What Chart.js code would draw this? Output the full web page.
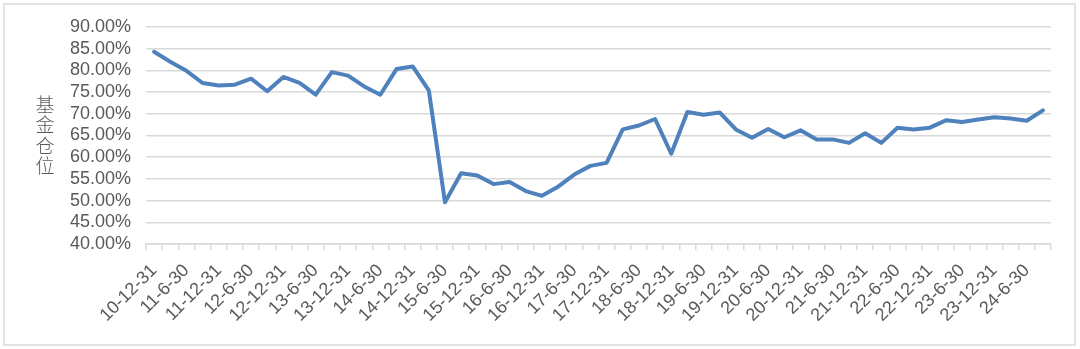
<!doctype html>
<html lang="zh">
<head>
  <meta charset="utf-8">
  <title>基金仓位</title>
  <script src="https://cdn.jsdelivr.net/npm/chart.js@4.4.0/dist/chart.umd.min.js"></script>
  <style>
    body { margin: 0; background: #fff; }
    #frame { position: absolute; left: 3px; top: 3px; width: 1069px; height: 339px; border: 2px solid #e3e3e3; }
    #chart { position: absolute; left: 0; top: 0; }
  </style>
</head>
<body>
  <div id="frame"></div>
  <canvas id="chart" width="1080" height="349"></canvas>

  <script>
    // quarterly report dates, every other one is labelled
    var quarters = ['10-12-31', '11-3-31', '11-6-30', '11-9-30', '11-12-31', '12-3-31', '12-6-30', '12-9-30',
      '12-12-31', '13-3-31', '13-6-30', '13-9-30', '13-12-31', '14-3-31', '14-6-30', '14-9-30',
      '14-12-31', '15-3-31', '15-6-30', '15-9-30', '15-12-31', '16-3-31', '16-6-30', '16-9-30',
      '16-12-31', '17-3-31', '17-6-30', '17-9-30', '17-12-31', '18-3-31', '18-6-30', '18-9-30',
      '18-12-31', '19-3-31', '19-6-30', '19-9-30', '19-12-31', '20-3-31', '20-6-30', '20-9-30',
      '20-12-31', '21-3-31', '21-6-30', '21-9-30', '21-12-31', '22-3-31', '22-6-30', '22-9-30',
      '22-12-31', '23-3-31', '23-6-30', '23-9-30', '23-12-31', '24-3-31', '24-6-30', '24-9-30'];

    // fund position, %
    var position = [84.3, 82.0, 79.9, 77.1, 76.5, 76.7, 78.1, 75.2, 78.5, 77.1,
      74.4, 79.6, 78.8, 76.3, 74.4, 80.3, 80.9, 75.4, 49.6, 56.3,
      55.8, 53.8, 54.3, 52.2, 51.1, 53.2, 56.0, 58.0, 58.7, 66.4,
      67.3, 68.8, 60.8, 70.4, 69.8, 70.3, 66.4, 64.5, 66.5, 64.6,
      66.2, 64.1, 64.1, 63.3, 65.5, 63.3, 66.8, 66.4, 66.8, 68.5,
      68.1, 68.7, 69.2, 68.9, 68.4, 70.8];

    var yMin = 40, yMax = 90, yStep = 5;
    var yTitle = ['基', '金', '仓', '位'];

    var gray = '#595959';
    var gridGray = '#d9d9d9';

    // vertical stacked axis title, like Excel
    var stackedTitle = {
      id: 'stackedTitle',
      afterDraw: function (chart) {
        var ctx = chart.ctx;
        var mid = (chart.chartArea.top + chart.chartArea.bottom) / 2;
        ctx.save();
        ctx.fillStyle = gray;
        ctx.font = '300 19px "Noto Sans CJK SC"';
        ctx.textAlign = 'center';
        ctx.textBaseline = 'middle';
        var gap = 20.5;
        for (var i = 0; i < yTitle.length; i++) {
          ctx.fillText(yTitle[i], 45, mid + (i - (yTitle.length - 1) / 2) * gap);
        }
        ctx.restore();
      }
    };

    var chart = new Chart(document.getElementById('chart'), {
      type: 'line',
      data: {
        labels: quarters,
        datasets: [{
          data: position,
          borderColor: '#4f81bd',
          borderWidth: 4,
          borderJoinStyle: 'round',
          borderCapStyle: 'round',
          tension: 0,
          pointRadius: 0,
          fill: false
        }]
      },
      options: {
        responsive: false,
        animation: false,
        layout: { padding: { top: 27, right: 29, left: 0, bottom: 0 } },
        plugins: {
          legend: { display: false },
          tooltip: { enabled: false }
        },
        scales: {
          x: {
            offset: true,
            grid: {
              offset: true,
              drawOnChartArea: false,
              drawTicks: true,
              tickLength: 6,
              color: gridGray,
              lineWidth: 1.5
            },
            border: { color: gridGray, width: 1.5 },
            ticks: {
              autoSkip: false,
              minRotation: 45,
              maxRotation: 45,
              padding: 10,
              color: gray,
              font: { family: '"Liberation Sans", Arial, sans-serif', size: 18 },
              callback: function (v, i) { return i % 2 === 0 ? quarters[i] : ''; }
            },
            afterFit: function (scale) { scale.height = 349 - 244; }
          },
          y: {
            min: yMin,
            max: yMax,
            grid: { color: gridGray, lineWidth: 1.5, drawTicks: false },
            border: { display: false },
            ticks: {
              autoSkip: false,
              stepSize: yStep,
              padding: 15,
              color: gray,
              font: { family: '"Liberation Sans", Arial, sans-serif', size: 18 },
              callback: function (v) { return v.toFixed(2) + '%'; }
            },
            afterFit: function (scale) { scale.width = 146; }
          }
        }
      },
      plugins: [stackedTitle]
    });
  </script>
</body>
</html>
